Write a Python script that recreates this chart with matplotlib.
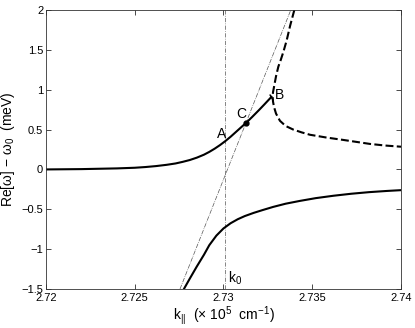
import matplotlib
matplotlib.use("Agg")
import matplotlib.pyplot as plt

plt.rcParams['font.family'] = ['Liberation Sans', 'DejaVu Sans']
plt.rcParams['mathtext.fontset'] = 'custom'
plt.rcParams['mathtext.rm'] = 'Liberation Sans'
plt.rcParams['mathtext.it'] = 'Liberation Sans'

# lower branch (solid), ends at B
k_lower = [2.7200, 2.7220, 2.7240, 2.7250, 2.7256, 2.7262, 2.7268, 2.7273,
           2.7277, 2.7281, 2.7285, 2.7289, 2.7292, 2.7295, 2.7298, 2.7301,
           2.7304, 2.7307, 2.7310, 2.7313, 2.7316, 2.7320, 2.7323, 2.7327]
w_lower = [0.000, 0.004, 0.013, 0.021, 0.030, 0.042, 0.058, 0.075,
           0.095, 0.118, 0.148, 0.185, 0.220, 0.260, 0.305, 0.355,
           0.410, 0.470, 0.530, 0.590, 0.655, 0.745, 0.815, 0.910]

# upper branch, lower part (solid)
k_upper = [2.72777, 2.7281, 2.72849, 2.7289, 2.7292, 2.7296, 2.7300, 2.7304,
           2.7308, 2.7312, 2.7317, 2.7322, 2.7328, 2.7335, 2.7343, 2.7352,
           2.7362, 2.7372, 2.7382, 2.7392, 2.7400]
w_upper = [-1.50, -1.37, -1.22, -1.07, -0.95, -0.83, -0.74, -0.675,
           -0.625, -0.585, -0.545, -0.51, -0.47, -0.43, -0.395, -0.36,
           -0.33, -0.305, -0.285, -0.27, -0.26]

# dashed branch through B
k_dash = [2.73399, 2.73375, 2.73356, 2.73338, 2.73322, 2.73309, 2.73296, 2.73285,
          2.73279, 2.73277, 2.73279, 2.73285, 2.73296, 2.73318, 2.73350, 2.73393,
          2.73440, 2.73487, 2.73580, 2.73675, 2.73750, 2.73825, 2.73910, 2.74000]
w_dash = [2.00, 1.80, 1.62, 1.48, 1.37, 1.29, 1.17, 1.04,
          0.97, 0.91, 0.85, 0.78, 0.70, 0.61, 0.545, 0.50,
          0.465, 0.435, 0.40, 0.37, 0.345, 0.32, 0.30, 0.285]

# photon line (dash-dot)
k_photon = [2.72755, 2.73379]
w_photon = [-1.5, 2.0]

k0 = 2.7301
k_C, w_C = 2.73127, 0.586
k_B, w_B = 2.7327, 0.91

xticks = [2.72, 2.725, 2.73, 2.735, 2.74]
xticklabels = ['2.72', '2.725', '2.73', '2.735', '2.74']
yticks = [-1.5, -1, -0.5, 0, 0.5, 1, 1.5, 2]
yticklabels = ['\u22121.5', '\u22121', '\u22120.5', '0', '0.5', '1', '1.5', '2']

fig = plt.figure(figsize=(4.15, 3.28), dpi=100)
ax = fig.add_axes([0.1108, 0.1189, 0.8555, 0.8506])

ax.plot(k_photon, w_photon, color='#555555', lw=0.5, ls='-.')
ax.axvline(k0, color='#555555', lw=0.5, ls=(0, (6, 2, 1, 2)))
ax.plot(k_lower, w_lower, color='black', lw=1.5)
ax.plot(k_upper, w_upper, color='black', lw=1.5)
ax.plot(k_dash, w_dash, color='black', lw=1.5, ls=(0, (3.8, 1.6)))
ax.plot([k_C], [w_C], 'o', color='black', ms=3.5)
ax.plot([k_B], [w_B], marker=(2, 0, 30), color='black', ms=5, mew=1)

ax.text(2.72990, 0.44, 'A', fontsize=10, ha='center', va='center')
ax.text(2.73102, 0.69, 'C', fontsize=10, ha='center', va='center')
ax.text(2.73318, 0.93, 'B', fontsize=10, ha='center', va='center')
ax.text(2.73028, -1.36, 'k$_0$', fontsize=10, ha='left', va='center')

ax.set_xlim(2.72, 2.74)
ax.set_ylim(-1.5, 2)
ax.set_xticks(xticks)
ax.set_xticklabels(xticklabels)
ax.set_yticks(yticks)
ax.set_yticklabels(yticklabels)
ax.tick_params(direction='in', top=True, right=True, labelsize=8, length=3.5, width=0.5, pad=2)
ax.tick_params(axis='x', pad=3)
for sp in ax.spines.values():
    sp.set_linewidth(0.6)
    sp.set_color('#333333')

ax.set_xlabel('k$_{||}$  (\u00d7 10$^5$  cm$^{-1}$)', fontsize=10, labelpad=1)
ax.set_ylabel('Re[\u03c9] \u2212 \u03c9$_0$  (meV)', fontsize=10, labelpad=3)

fig.savefig('out.png', dpi=100)
